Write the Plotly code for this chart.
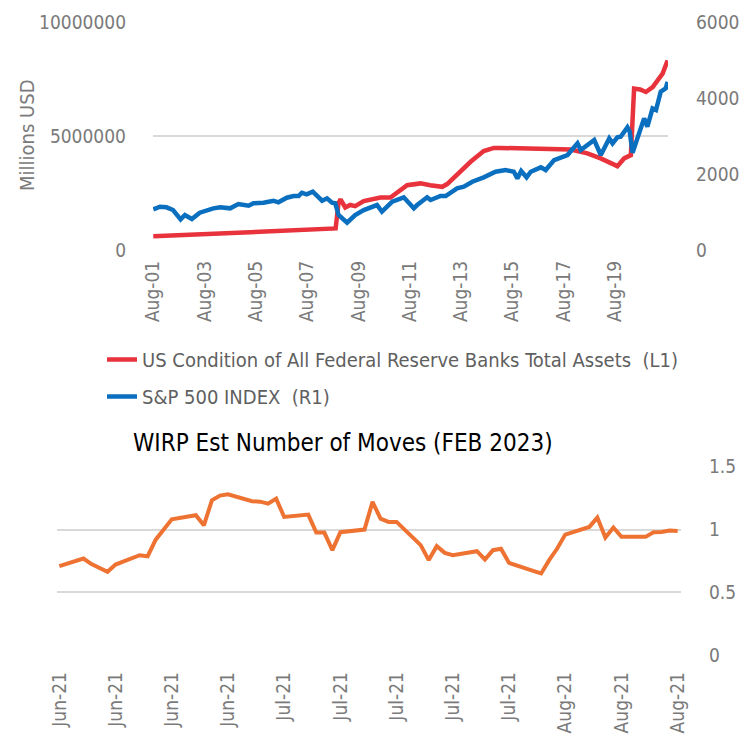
import plotly.graph_objects as go

# ---------------- data ----------------
fed_dates = ["2001-08-01", "2008-07-20", "2008-09-10", "2008-10-20", "2008-11-18", "2009-01-25",
             "2009-04-05", "2009-06-15", "2009-10-15", "2010-06-10", "2010-10-30", "2011-06-25",
             "2012-01-01", "2012-05-20", "2012-11-05", "2013-01-15", "2013-12-15", "2014-06-20",
             "2014-11-10", "2015-02-05", "2017-11-10", "2018-07-05", "2019-01-10", "2019-09-05",
             "2019-12-10", "2020-02-20", "2020-03-15", "2020-04-30", "2020-07-25", "2020-10-15",
             "2021-01-20", "2021-06-10", "2021-08-20"]
fed_assets = [600000, 920000, 950000, 2050000, 2230000, 1870000,
              1980000, 1930000, 2150000, 2310000, 2310000, 2850000,
              2930000, 2850000, 2780000, 2900000, 3880000, 4350000,
              4490000, 4490000, 4420000, 4250000, 4030000, 3690000,
              4030000, 4140000, 4170000, 7100000, 7060000, 6950000,
              7170000, 7760000, 8340000]

spx_dates = ["2001-08-01", "2001-11-05", "2002-02-05", "2002-05-10", "2002-08-25", "2002-10-25",
             "2003-02-01", "2003-05-25", "2003-12-05", "2004-03-10", "2004-07-30", "2004-11-25",
             "2005-04-20", "2005-06-28", "2005-11-18", "2006-04-08", "2006-06-18", "2006-10-15",
             "2007-01-20", "2007-04-01", "2007-05-18", "2007-07-25", "2007-10-20", "2008-03-01",
             "2008-05-10", "2008-07-20", "2008-09-05", "2008-10-22", "2009-02-20", "2009-06-15",
             "2009-10-15", "2010-02-10", "2010-04-22", "2010-07-01", "2010-11-25", "2011-05-08",
             "2011-09-28", "2011-11-15", "2012-04-05", "2012-05-25", "2012-10-12", "2012-12-25",
             "2013-06-05", "2013-09-10", "2014-01-08", "2014-06-20", "2014-12-05", "2015-04-28",
             "2015-08-22", "2015-10-12", "2015-12-05", "2016-02-20", "2016-04-20", "2016-09-10",
             "2016-11-18", "2017-03-18", "2017-09-25", "2018-02-14", "2018-04-01", "2018-10-10",
             "2019-01-12", "2019-05-12", "2019-06-28", "2019-09-05", "2019-10-22", "2020-01-26",
             "2020-02-28", "2020-04-08", "2020-06-18", "2020-09-20", "2020-11-05", "2021-01-18",
             "2021-03-08", "2021-05-15", "2021-07-25", "2021-08-20"]
spx_index = [1074, 1143, 1127, 1055, 810, 923,
             818, 985, 1100, 1127, 1100, 1214,
             1169, 1232, 1248, 1301, 1258, 1380,
             1425, 1425, 1512, 1470, 1538, 1301,
             1364, 1248, 1232, 923, 720, 923,
             1055, 1127, 1187, 1011, 1274, 1390,
             1100, 1187, 1390, 1319, 1425, 1425,
             1628, 1670, 1802, 1918, 2066, 2110,
             2066, 1891, 2084, 1918, 2066, 2181,
             2110, 2375, 2507, 2815, 2638, 2902,
             2507, 2947, 2815, 2973, 2990, 3237,
             3121, 2567, 2990, 3475, 3254, 3739,
             3694, 4177, 4266, 4441]

wirp_dates = ["2021-06-04", "2021-06-07", "2021-06-08", "2021-06-09", "2021-06-10", "2021-06-11",
              "2021-06-14", "2021-06-15", "2021-06-16", "2021-06-17", "2021-06-18",
              "2021-06-21", "2021-06-22", "2021-06-23", "2021-06-24", "2021-06-25",
              "2021-06-28", "2021-06-29", "2021-06-30", "2021-07-01", "2021-07-02",
              "2021-07-05", "2021-07-06", "2021-07-07", "2021-07-08", "2021-07-09",
              "2021-07-12", "2021-07-13", "2021-07-14", "2021-07-15", "2021-07-16",
              "2021-07-19", "2021-07-20", "2021-07-21", "2021-07-22", "2021-07-23",
              "2021-07-26", "2021-07-27", "2021-07-28", "2021-07-29", "2021-07-30",
              "2021-08-02", "2021-08-03", "2021-08-04", "2021-08-05", "2021-08-06",
              "2021-08-09", "2021-08-10", "2021-08-11", "2021-08-12", "2021-08-13",
              "2021-08-16", "2021-08-17", "2021-08-18", "2021-08-19", "2021-08-20"]
wirp_moves = [0.709, 0.770, 0.725, 0.695, 0.664, 0.722,
              0.796, 0.788, 0.920, 1.000, 1.082,
              1.114, 1.034, 1.233, 1.270, 1.280,
              1.225, 1.222, 1.206, 1.246, 1.100,
              1.119, 0.976, 0.976, 0.836, 0.979,
              1.000, 1.220, 1.087, 1.061, 1.061,
              0.876, 0.757, 0.868, 0.815, 0.796,
              0.828, 0.762, 0.836, 0.847, 0.735,
              0.672, 0.651, 0.757, 0.849, 0.960,
              1.021, 1.095, 0.937, 1.016, 0.942,
              0.942, 0.979, 0.981, 0.992, 0.989]

top_ticks = ["2001-08-01", "2003-08-01", "2005-08-01", "2007-08-01", "2009-08-01",
             "2011-08-01", "2013-08-01", "2015-08-01", "2017-08-01", "2019-08-01"]
bottom_ticks = ["2021-06-04", "2021-06-11", "2021-06-18", "2021-06-25", "2021-07-02", "2021-07-09",
                "2021-07-16", "2021-07-23", "2021-07-30", "2021-08-06", "2021-08-13", "2021-08-20"]

# ---------------- style ----------------
FONT = "Liberation Sans Narrow, DejaVu Sans Condensed, Roboto Condensed, Arial Narrow, sans-serif"
TICK = "#7a7a7a"
GRID = "#d9d9d9"
W, H = 740, 738

def fx(px):
    return px / W

def fy(py):
    return 1 - py / H

fig = go.Figure()
fig.add_trace(go.Scatter(x=fed_dates, y=fed_assets, mode="lines",
                         name="US Condition of All Federal Reserve Banks Total Assets  (L1)",
                         line=dict(color="#e8323c", width=4.5), xaxis="x", yaxis="y",
                         legendgroup="a"))
fig.add_trace(go.Scatter(x=spx_dates, y=spx_index, mode="lines",
                         name="S&P 500 INDEX  (R1)",
                         line=dict(color="#0b6fc0", width=4.5), xaxis="x", yaxis="y2",
                         legendgroup="b"))
fig.add_trace(go.Scatter(x=wirp_dates, y=wirp_moves, mode="lines", showlegend=False,
                         line=dict(color="#ee7232", width=4), xaxis="x2", yaxis="y3"))

fig.update_layout(
    template="none",
    width=W, height=H,
    margin=dict(l=0, r=0, t=0, b=0, autoexpand=False),
    paper_bgcolor="white", plot_bgcolor="white",
    font=dict(family=FONT, size=19, color=TICK),
    xaxis=dict(domain=[fx(153), fx(668)], anchor="y", type="date", automargin=False,
               range=["2001-07-28", "2021-08-26"],
               tickvals=top_ticks, tickformat="%b-%y", tickangle=-90,
               showgrid=False, zeroline=False, showline=False, ticks="",
               ticklabelstandoff=6),
    yaxis=dict(domain=[fy(250), fy(22.7)], anchor="x", range=[0, 10000000], automargin=False,
               tickvals=[0, 5000000, 10000000], ticktext=["0", "5000000", "10000000"],
               gridcolor=GRID, gridwidth=1.5, zeroline=False, showline=False, ticks="",
               ticklabelstandoff=26),
    yaxis2=dict(overlaying="y", anchor="x", side="right", range=[0, 6000], automargin=False,
                tickvals=[0, 2000, 4000, 6000], showgrid=False, zeroline=False, ticks="",
                showline=False, ticklabelstandoff=27),
    xaxis2=dict(domain=[fx(57), fx(681)], anchor="y3", type="date", automargin=False,
                range=["2021-06-03 17:00", "2021-08-20 10:00"],
                tickvals=bottom_ticks, tickformat="%b-%y", tickangle=-90,
                showgrid=False, zeroline=False, showline=False, ticks="",
                ticklabelstandoff=12),
    yaxis3=dict(domain=[fy(655.3), fy(466.7)], anchor="x2", side="right", range=[0, 1.5],
                automargin=False,
                tickvals=[0, 0.5, 1, 1.5], ticktext=["0", "0.5", "1", "1.5"],
                gridcolor=GRID, gridwidth=1.5, zeroline=False, showline=False, ticks="",
                ticklabelstandoff=27),
    legend=dict(x=fx(102), y=fy(340), xanchor="left", yanchor="top",
                bgcolor="rgba(0,0,0,0)", tracegroupgap=8, borderwidth=0,
                font=dict(family=FONT, size=20, color="#5f5f5f")),
    showlegend=True,
)

fig.add_annotation(text="Millions USD", x=fx(27), y=fy(136), xref="paper", yref="paper",
                   xanchor="center", yanchor="middle",
                   textangle=-90, showarrow=False, font=dict(family=FONT, size=20, color=TICK))
fig.add_annotation(text="WIRP Est Number of Moves (FEB 2023)", x=fx(343), y=fy(443),
                   xref="paper", yref="paper", xanchor="center", yanchor="middle",
                   showarrow=False,
                   font=dict(family=FONT, size=24, color="#000000"))

fig.write_html("out.html", config={"displayModeBar": False},
               post_script="document.body.style.margin='0';document.body.style.padding='0';")
